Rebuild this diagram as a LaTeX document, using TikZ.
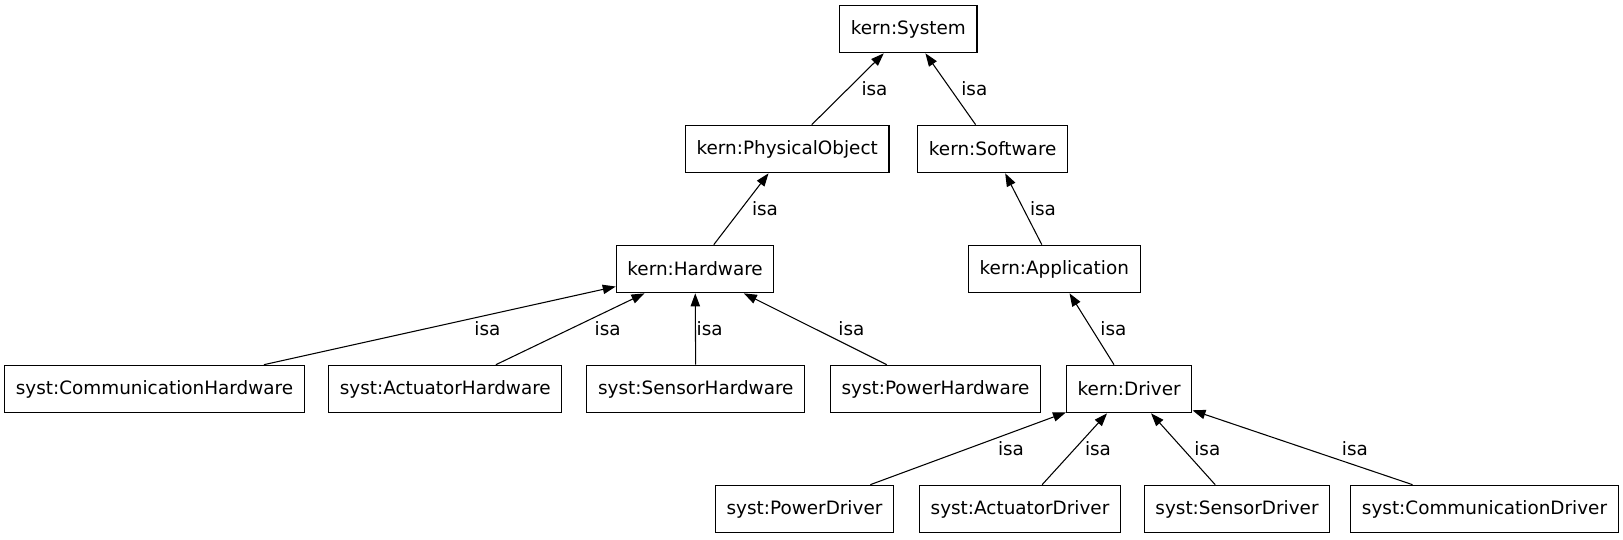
\documentclass[tikz,border=0pt]{standalone}
\usepackage{fontspec}
\setmainfont{DejaVu Sans}
\usetikzlibrary{arrows.meta}
\tikzset{
  cls/.style={draw,line width=0.8pt,inner xsep=8.4pt,inner ysep=0pt,minimum height=35.7pt,font=\fontsize{13.8}{16}\selectfont},
  isalabel/.style={font=\fontsize{13.8}{16}\selectfont,inner sep=0pt},
}
\begin{document}
\begin{tikzpicture}[x=0.75pt,y=-0.75pt,>={Triangle[length=9.75pt,width=7pt]},line width=0.8pt]
  \useasboundingbox (0,0) rectangle (1623,539);
  % top levels
  \node[cls] (system) at (908.3,29) {kern:System};
  \node[cls] (physobj) at (787.2,149) {kern:PhysicalObject};
  \node[cls] (software) at (992.7,149) {kern:Software};
  \node[cls] (hardware) at (695.1,269) {kern:Hardware};
  \node[cls] (application) at (1054.3,269) {kern:Application};
  % hardware and driver row
  \node[cls] (commhw) at (154.5,389) {syst:CommunicationHardware};
  \node[cls] (acthw) at (445.3,389) {syst:ActuatorHardware};
  \node[cls] (senshw) at (695.8,389) {syst:SensorHardware};
  \node[cls] (powhw) at (935.5,389) {syst:PowerHardware};
  \node[cls] (driver) at (1129.2,389) {kern:Driver};
  % drivers
  \node[cls] (powdrv) at (804.5,509) {syst:PowerDriver};
  \node[cls] (actdrv) at (1020,509) {syst:ActuatorDriver};
  \node[cls] (sensdrv) at (1237,509) {syst:SensorDriver};
  \node[cls] (commdrv) at (1484.5,509) {syst:CommunicationDriver};
  \foreach \from/\to/\lx/\ly in {physobj/system/874.5/89, software/system/974.3/89,
      hardware/physobj/765/209, application/software/1043/209,
      commhw/hardware/487.4/329, acthw/hardware/607.7/329, senshw/hardware/709.7/329,
      powhw/hardware/851.4/329, driver/application/1113.4/329,
      powdrv/driver/1011/449, actdrv/driver/1098/449, sensdrv/driver/1207.3/449,
      commdrv/driver/1354.9/449}{
    \draw[->] (\from) -- (\to) node[isalabel] at (\lx,\ly) {isa};
  }
\end{tikzpicture}
\end{document}
